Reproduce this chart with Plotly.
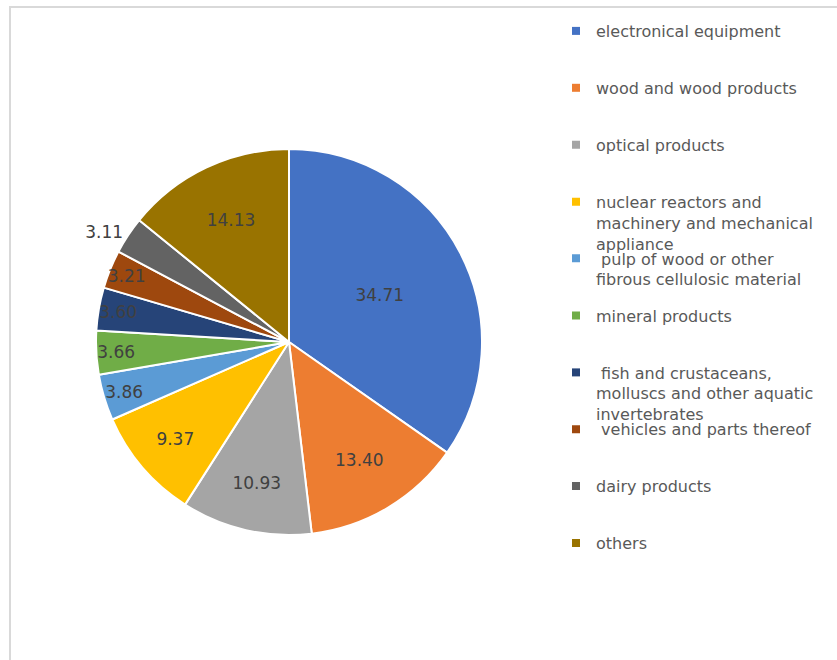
import plotly.graph_objects as go

# Product categories and their shares (%)
categories = [
    "electronical equipment",
    "wood and wood products",
    "optical products",
    "nuclear reactors and machinery and mechanical appliance",
    " pulp of wood or other fibrous cellulosic material",
    "mineral products",
    " fish and crustaceans, molluscs and other aquatic invertebrates",
    " vehicles and parts thereof",
    "dairy products",
    "others",
]
legend_labels = [
    "electronical equipment",
    "wood and wood products",
    "optical products",
    "nuclear reactors and<br>machinery and mechanical<br>appliance",
    " pulp of wood or other<br>fibrous cellulosic material",
    "mineral products",
    " fish and crustaceans,<br>molluscs and other aquatic<br>invertebrates",
    " vehicles and parts thereof",
    "dairy products",
    "others",
]
shares = [34.71, 13.40, 10.93, 9.37, 3.86, 3.66, 3.60, 3.21, 3.11, 14.13]
colors = ["#4472C4", "#ED7D31", "#A5A5A5", "#FFC000", "#5B9BD5",
          "#70AD47", "#264478", "#9E480E", "#636363", "#997300"]
label_positions = ["inside"] * 8 + ["outside", "inside"]

W, H = 837, 660
text_color = "#404040"
legend_color = "#595959"
font_family = "DejaVu Sans, sans-serif"

fig = go.Figure()

cx, cy, r = 289, 342, 193
fig.add_trace(go.Pie(
    labels=categories,
    values=shares,
    text=[f"{v:.2f}" for v in shares],
    textinfo="text",
    textposition=label_positions,
    insidetextorientation="horizontal",
    sort=False,
    direction="clockwise",
    rotation=0,
    marker=dict(colors=colors, line=dict(color="white", width=2)),
    textfont=dict(family=font_family, size=17, color=text_color),
    insidetextfont=dict(family=font_family, size=17, color=text_color),
    outsidetextfont=dict(family=font_family, size=17, color=text_color),
    showlegend=False,
    hoverinfo="label+value",
    domain=dict(x=[(cx - r) / W, (cx + r) / W],
                y=[(H - cy - r) / H, (H - cy + r) / H]),
))

# One legend per category, stacked at a fixed pitch
legend_top = 31
legend_step = 56.9
for i, (lab, col) in enumerate(zip(legend_labels, colors)):
    name = "legend" if i == 0 else f"legend{i + 1}"
    n_lines = lab.count("<br>") + 1
    # pad so the marker sits beside the first line of text
    padded = "<br>" * (n_lines - 1) + lab
    fig.add_trace(go.Scatter(
        x=[None], y=[None], mode="markers",
        marker=dict(symbol="square", size=8, color=col),
        name=padded, legend=name, showlegend=True, hoverinfo="skip",
    ))
    y_center = legend_top + i * legend_step
    fig.update_layout({name: dict(
        x=556 / W, xanchor="left",
        y=1 - y_center / H, yanchor="middle",
        bgcolor="rgba(0,0,0,0)", borderwidth=0,
        font=dict(family=font_family, size=16, color=legend_color),
        itemwidth=30, itemclick=False, itemdoubleclick=False,
    )})

fig.update_layout(
    width=W, height=H,
    margin=dict(l=0, r=0, t=0, b=0),
    paper_bgcolor="white", plot_bgcolor="white",
    xaxis=dict(visible=False), yaxis=dict(visible=False),
    uniformtext=dict(minsize=17, mode="show"),
    shapes=[dict(type="rect", xref="paper", yref="paper",
                 x0=10 / W, x1=1.2, y0=-0.2, y1=1 - 7 / H,
                 line=dict(color="#D9D9D9", width=2), layer="below")],
)

fig.write_html("out.html")
